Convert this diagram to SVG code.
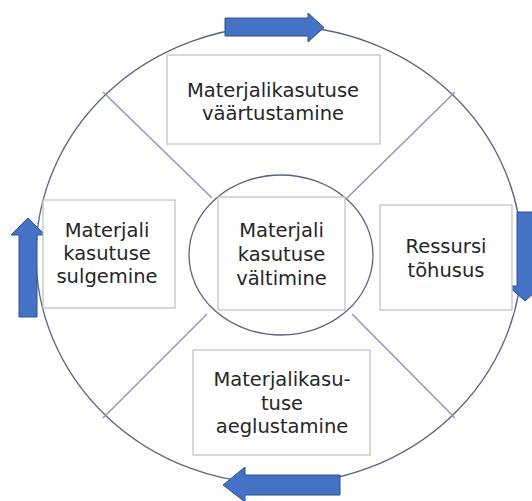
<svg xmlns="http://www.w3.org/2000/svg" width="532" height="501" viewBox="0 0 532 501">
<style>
.ring{fill:none;stroke:#5b6383;stroke-width:1.3}
.spoke{stroke:#8890bb;stroke-width:1.3;fill:none}
.box{fill:#ffffff;stroke:#bfbfbf;stroke-width:1.2}
.lbl{font-family:"DejaVu Sans",Verdana,sans-serif;font-size:19.5px;fill:#262626;text-anchor:middle}
.arrow{fill:#4472c4;stroke:#2f528f;stroke-width:1}
</style>
<rect width="532" height="501" fill="#ffffff"/>
<g id="connectors">
<ellipse class="ring" cx="279" cy="255" rx="243" ry="229"/>
<line class="spoke" x1="103" y1="92" x2="212" y2="198"/>
<line class="spoke" x1="455" y1="92" x2="347" y2="198"/>
<line class="spoke" x1="103" y1="418" x2="207" y2="314"/>
<line class="spoke" x1="455" y1="418" x2="352" y2="314"/>
<path class="arrow" d="M225,18 H308 V13 L324,27.5 L308,42 V36 H225 Z"/>
<path class="arrow" d="M517,212 H533 V286 H542 L525,301 L508,286 H517 Z"/>
<path class="arrow" d="M340,475 H245 V467 L223,485 L245,502 V495 H340 Z"/>
<path class="arrow" d="M19,317 V235 H11 L28,218 L45,235 H37 V317 Z"/>
</g>
<g id="center">
<ellipse class="ring" cx="281" cy="255" rx="92" ry="80"/>
<rect class="box" x="218" y="197" width="127" height="113"/>
<text class="lbl" x="281.5" y="237">Materjali</text>
<text class="lbl" x="281.5" y="261">kasutuse</text>
<text class="lbl" x="281.5" y="285">vältimine</text>
</g>
<g id="top">
<rect class="box" x="167" y="55" width="213" height="89"/>
<text class="lbl" x="273" y="97">Materjalikasutuse</text>
<text class="lbl" x="273" y="120">väärtustamine</text>
</g>
<g id="right">
<rect class="box" x="380" y="205" width="132" height="105"/>
<text class="lbl" x="446" y="253">Ressursi</text>
<text class="lbl" x="446" y="277">tõhusus</text>
</g>
<g id="bottom">
<rect class="box" x="193" y="350" width="177" height="105"/>
<text class="lbl" x="282" y="386">Materjalikasu-</text>
<text class="lbl" x="282" y="410">tuse</text>
<text class="lbl" x="282" y="433">aeglustamine</text>
</g>
<g id="left">
<rect class="box" x="43" y="200" width="132" height="108"/>
<text class="lbl" x="107" y="237">Materjali</text>
<text class="lbl" x="107" y="260">kasutuse</text>
<text class="lbl" x="107" y="283">sulgemine</text>
</g>
</svg>
